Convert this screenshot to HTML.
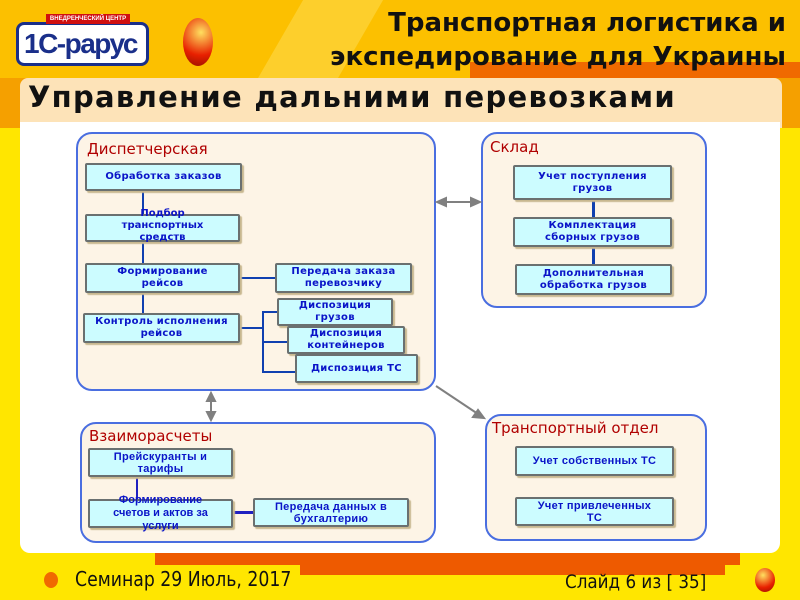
<!DOCTYPE html>
<html><head><meta charset="utf-8"><style>
*{margin:0;padding:0;box-sizing:border-box}
body{width:800px;height:600px;overflow:hidden;position:relative;background:#ffe600;font-family:"Liberation Sans","DejaVu Sans",sans-serif}
.a{position:absolute}
.grp{position:absolute;background:#fdf4e6;border:2px solid #4a6ee0;border-radius:16px}
.gt{position:absolute;color:#b00000;font-size:15px;font-family:"DejaVu Sans",sans-serif}
.b{position:absolute;background:#ccfcff;border:2px solid #6a7070;border-radius:2px;box-shadow:2px 2px 1px #c8b890;color:#0a14c8;font:bold 10px "DejaVu Sans",sans-serif;display:flex;align-items:center;justify-content:center;text-align:center;line-height:12px;letter-spacing:.3px}
.ln{position:absolute;background:#1040b0}
</style></head><body>
<div class="a" style="left:0;top:0;width:800px;height:80px;background:#fcc000"></div>
<div class="a" style="left:280px;top:0;width:80px;height:80px;background:#fdd84a;transform:skewX(-30deg);opacity:.6"></div>
<div class="a" style="left:470px;top:62px;width:330px;height:22px;background:#f06a00"></div>
<div class="a" style="left:0;top:78px;width:800px;height:50px;background:#f5a000"></div>
<div class="a" style="left:20px;top:78px;width:762px;height:50px;background:#fde3b8;border-radius:8px 8px 0 0"></div>
<div class="a" style="left:28px;top:80px;font:bold 29px 'DejaVu Sans',sans-serif;color:#111;letter-spacing:1.3px;white-space:nowrap">Управление дальними перевозками</div>
<div class="a" style="left:20px;top:122px;width:760px;height:431px;background:#fff;border-radius:0 0 10px 10px"></div>
<div class="a" style="left:155px;top:553px;width:585px;height:12px;background:#ee5a00"></div>
<div class="a" style="left:300px;top:565px;width:425px;height:10px;background:#ee5a00"></div>
<!-- logo -->
<div class="a" style="left:16px;top:22px;width:133px;height:44px;background:#fff;border:3px solid #1a2f8a;border-radius:8px;overflow:hidden"><div style="font:bold 28px 'Liberation Sans',sans-serif;color:#1a2f8a;letter-spacing:-1.5px;margin:0 0 0 5px;line-height:38px;white-space:nowrap">1С-рарус</div></div>
<div class="a" style="left:46px;top:14px;width:84px;height:10px;background:#d01010;color:#fff;font:bold 6px sans-serif;text-align:center;line-height:10px;white-space:nowrap">ВНЕДРЕНЧЕСКИЙ ЦЕНТР</div>
<div class="a" style="left:183px;top:18px;width:30px;height:48px;border-radius:50%;background:radial-gradient(circle at 60% 30%,#ffe060,#e82000 60%,#901000)"></div>
<div class="a" style="right:14px;top:6px;font:bold 26px 'DejaVu Sans',sans-serif;color:#111;text-align:right;line-height:34px;white-space:nowrap">Транспортная логистика и<br>экспедирование для Украины</div>
<!-- groups -->
<div class="grp" style="left:76px;top:132px;width:360px;height:259px"></div>
<div class="gt" style="left:87px;top:140px">Диспетчерская</div>
<div class="grp" style="left:481px;top:132px;width:226px;height:176px"></div>
<div class="gt" style="left:490px;top:138px">Склад</div>
<div class="grp" style="left:80px;top:422px;width:356px;height:121px"></div>
<div class="gt" style="left:89px;top:427px">Взаиморасчеты</div>
<div class="grp" style="left:485px;top:414px;width:222px;height:127px"></div>
<div class="gt" style="left:492px;top:419px">Транспортный отдел</div>
<!-- lines -->
<div class="ln" style="left:142px;top:190px;width:2px;height:124px"></div>
<div class="ln" style="left:240px;top:277px;width:36px;height:2px"></div>
<div class="ln" style="left:240px;top:327px;width:22px;height:2px"></div>
<div class="ln" style="left:262px;top:311px;width:2px;height:62px"></div>
<div class="ln" style="left:262px;top:311px;width:16px;height:2px"></div>
<div class="ln" style="left:262px;top:341px;width:26px;height:2px"></div>
<div class="ln" style="left:262px;top:371px;width:34px;height:2px"></div>
<div class="ln" style="left:592px;top:200px;width:3px;height:66px"></div>
<div class="ln" style="left:136px;top:477px;width:2px;height:23px;background:#2020c0"></div>
<div class="ln" style="left:233px;top:511px;width:21px;height:3px;background:#2020c0"></div>
<!-- boxes -->
<div class="b" style="left:85px;top:163px;width:157px;height:28px">Обработка заказов</div>
<div class="b" style="left:85px;top:214px;width:155px;height:28px"></div>
<div class="b" style="left:85px;top:263px;width:155px;height:30px">Формирование<br>рейсов</div>
<div class="b" style="left:83px;top:313px;width:157px;height:30px">Контроль исполнения<br>рейсов</div>
<div class="a" style="left:85px;top:208px;width:155px;text-align:center;color:#0a14c8;font:bold 10px 'DejaVu Sans',sans-serif;line-height:12px">Подбор<br>транспортных<br>средств</div>
<div class="b" style="left:275px;top:263px;width:137px;height:30px">Передача заказа<br>перевозчику</div>
<div class="b" style="left:277px;top:298px;width:116px;height:28px">Диспозиция<br>грузов</div>
<div class="b" style="left:287px;top:326px;width:118px;height:28px">Диспозиция<br>контейнеров</div>
<div class="b" style="left:295px;top:354px;width:123px;height:29px">Диспозиция ТС</div>
<div class="b" style="left:513px;top:165px;width:159px;height:35px">Учет поступления<br>грузов</div>
<div class="b" style="left:513px;top:217px;width:159px;height:30px">Комплектация<br>сборных грузов</div>
<div class="b" style="left:515px;top:264px;width:157px;height:31px">Дополнительная<br>обработка грузов</div>
<div class="b" style="left:88px;top:448px;width:145px;height:29px;font-family:'Liberation Sans',sans-serif;font-size:11px">Прейскуранты и<br>тарифы</div>
<div class="b" style="left:88px;top:499px;width:145px;height:29px"></div>
<div class="a" style="left:88px;top:494px;width:145px;text-align:center;color:#0a14c8;font:bold 11px 'Liberation Sans',sans-serif;line-height:13px">Формирование<br>счетов и актов за<br>услуги</div>
<div class="b" style="left:253px;top:498px;width:156px;height:29px;font-family:'Liberation Sans',sans-serif;font-size:11px">Передача данных в<br>бухгалтерию</div>
<div class="b" style="left:515px;top:446px;width:159px;height:30px;font-family:'Liberation Sans',sans-serif;font-size:11px">Учет собственных ТС</div>
<div class="b" style="left:515px;top:497px;width:159px;height:29px;font-family:'Liberation Sans',sans-serif;font-size:11px">Учет привлеченных<br>ТС</div>
<!-- arrows -->
<svg class="a" style="left:0;top:0" width="800" height="600">
<g stroke="#808080" stroke-width="2" fill="#808080">
<line x1="443" y1="202" x2="474" y2="202"/>
<polygon points="437,202 446,198 446,206"/><polygon points="480,202 471,198 471,206"/>
<line x1="211" y1="399" x2="211" y2="414"/>
<polygon points="211,393 207,401 215,401"/><polygon points="211,420 207,412 215,412"/>
<line x1="436" y1="386" x2="478" y2="414"/>
<polygon points="484,418 473,417 478,410"/>
</g></svg>
<!-- footer -->
<div class="a" style="left:44px;top:572px;width:14px;height:16px;border-radius:50%;background:#f06a00"></div>
<div class="a" style="left:75px;top:567px;font:20px 'DejaVu Sans Condensed','DejaVu Sans',sans-serif;color:#111;transform-origin:0 0;transform:scaleX(.96);white-space:nowrap">Семинар 29 Июль, 2017</div>
<div class="a" style="left:565px;top:571px;font:19px 'DejaVu Sans Condensed','DejaVu Sans',sans-serif;color:#111;transform-origin:0 0;transform:scaleX(.98);white-space:nowrap">Слайд 6 из [ 35]</div>
<div class="a" style="left:755px;top:568px;width:20px;height:24px;border-radius:50%;background:radial-gradient(circle at 40% 30%,#ffe060,#e82000 60%,#901000)"></div>
</body></html>
